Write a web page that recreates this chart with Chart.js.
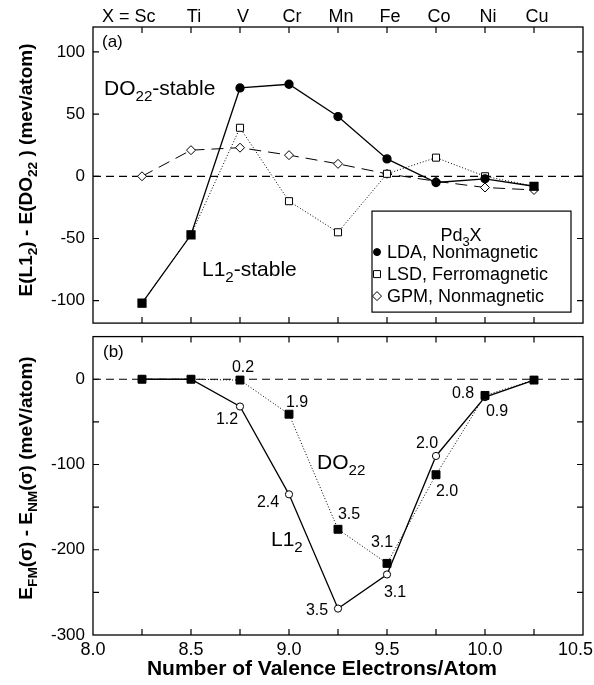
<!DOCTYPE html>
<html>
<head>
<meta charset="utf-8">
<script src="https://cdn.jsdelivr.net/npm/chart.js@4.4.1/dist/chart.umd.min.js"></script>
<style>
  body { margin: 0; background: #fff; }
  #wrap { position: relative; width: 594px; height: 685px; background: #fff; }
  canvas { position: absolute; left: 0; }
</style>
</head>
<body>
<div id="wrap">
  <canvas id="panelA" width="594" height="330" style="top:0"></canvas>
  <canvas id="panelB" width="594" height="355" style="top:330px"></canvas>
</div>
<script>
// elements X in Pd3X and their valence electron count
const elements = ['Sc', 'Ti', 'V', 'Cr', 'Mn', 'Fe', 'Co', 'Ni', 'Cu'];
const valence = [8.25, 8.5, 8.75, 9.0, 9.25, 9.5, 9.75, 10.0, 10.25];

// (a) E(L12) - E(DO22), meV/atom
const ldaNonmag = [-102, -47, 71, 74, 48, 14, -5, -2, -8];
const lsdFerro = [-102, -47, 39, -20, -45, 2, 15, 0, -8];
const gpmNonmag = [0, 21, 23, 17, 10, 2, -4, -9, -11];

// (b) E_FM - E_NM, meV/atom, and magnetic moments
const do22Diff = [0, 0, -1, -41, -176, -216, -112, -19, -1];
const l12Diff = [0, 0, -32, -135, -269, -229, -90, -21, -1];
const do22Moment = ['', '', '0.2', '1.9', '3.5', '3.1', '2.0', '0.9', ''];
const l12Moment = ['', '', '1.2', '2.4', '3.5', '3.1', '2.0', '0.8', ''];

// axes
const xTickLabels = [8.0, 8.5, 9.0, 9.5, 10.0, 10.5];
const xTickMarks = [8.25, 8.5, 8.75, 9.0, 9.25, 9.5, 9.75, 10.0, 10.25];
const yTicksA = [-100, -50, 0, 50, 100];
const yTicksB = [-300, -200, -100, 0];
const yMarksB = [-250, -200, -150, -100, -50, 0];

const FONT = '"Liberation Sans", Arial, Helvetica, sans-serif';
Chart.defaults.font.family = FONT;
Chart.defaults.color = '#000';

const pts = arr => valence.map((x, i) => ({ x: x, y: arr[i] }));

// text with _{sub} markup
function richText(ctx, str, x, y, size, bold, align) {
  const parts = str.split(/_\{(.*?)\}/);
  const font = s => (bold ? 'bold ' : '') + s + 'px ' + FONT;
  let total = 0;
  parts.forEach((t, i) => { ctx.font = font(i % 2 ? size * 0.72 : size); total += ctx.measureText(t).width; });
  let cx = align === 'center' ? x - total / 2 : align === 'right' ? x - total : x;
  ctx.textAlign = 'left';
  ctx.textBaseline = 'alphabetic';
  ctx.fillStyle = '#000';
  parts.forEach((t, i) => {
    ctx.font = font(i % 2 ? size * 0.72 : size);
    ctx.fillText(t, cx, i % 2 ? y + size * 0.28 : y);
    cx += ctx.measureText(t).width;
  });
}

function drawFrame(chart, yMarks) {
  const { ctx, chartArea: a, scales } = chart;
  ctx.save();
  ctx.strokeStyle = '#000';
  ctx.lineWidth = 1.3;
  ctx.strokeRect(a.left, a.top, a.right - a.left, a.bottom - a.top);
  ctx.lineWidth = 1.2;
  ctx.beginPath();
  xTickMarks.forEach(v => {
    const px = scales.x.getPixelForValue(v);
    ctx.moveTo(px, a.top); ctx.lineTo(px, a.top + 6);
    ctx.moveTo(px, a.bottom); ctx.lineTo(px, a.bottom - 6);
  });
  yMarks.forEach(v => {
    const py = scales.y.getPixelForValue(v);
    ctx.moveTo(a.left, py); ctx.lineTo(a.left + 6, py);
    ctx.moveTo(a.right, py); ctx.lineTo(a.right - 6, py);
  });
  ctx.stroke();
  ctx.restore();
}

function drawZero(chart) {
  const { ctx, chartArea: a, scales } = chart;
  const py = scales.y.getPixelForValue(0);
  ctx.save();
  ctx.strokeStyle = '#000';
  ctx.lineWidth = 1.2;
  ctx.setLineDash([8, 5]);
  ctx.beginPath();
  ctx.moveTo(a.left, py); ctx.lineTo(a.right, py);
  ctx.stroke();
  ctx.restore();
}

function drawYTitle(ctx, str, cx, cy) {
  ctx.save();
  ctx.translate(cx, cy);
  ctx.rotate(-Math.PI / 2);
  richText(ctx, str, 0, 7, 19, true, 'center');
  ctx.restore();
}

function marker(ctx, style, x, y, r, fill) {
  ctx.beginPath();
  if (style === 'circle') ctx.arc(x, y, r, 0, Math.PI * 2);
  else if (style === 'rect') ctx.rect(x - r, y - r, 2 * r, 2 * r);
  else { ctx.moveTo(x, y - r); ctx.lineTo(x + r, y); ctx.lineTo(x, y + r); ctx.lineTo(x - r, y); ctx.closePath(); }
  ctx.fillStyle = fill ? '#000' : '#fff';
  ctx.fill();
  ctx.lineWidth = 1;
  ctx.strokeStyle = '#000';
  ctx.stroke();
}

const yAfterFit = s => { s.width = 93; s.paddingTop = 0; s.paddingBottom = 0; };

// ---------- panel (a)
const panelAPlugin = {
  id: 'panelA',
  beforeDatasetsDraw: chart => drawZero(chart),
  afterDraw(chart) {
    const { ctx, chartArea: a, scales } = chart;
    const xs = scales.x, ys = scales.y;
    drawFrame(chart, yTicksA);

    // element names along the top
    ctx.save();
    ctx.font = '18px ' + FONT;
    ctx.fillStyle = '#000';
    ctx.textBaseline = 'alphabetic';
    elements.forEach((el, i) => {
      const px = xs.getPixelForValue(valence[i]) + 3;
      ctx.textAlign = 'center';
      ctx.fillText(el, px, 22);
      if (i === 0) {
        ctx.textAlign = 'right';
        ctx.fillText('X = ', px - ctx.measureText(el).width / 2, 22);
      }
    });
    ctx.font = '17px ' + FONT;
    ctx.textAlign = 'left';
    ctx.fillText('(a)', a.left + 9, a.top + 20);
    ctx.restore();

    richText(ctx, 'DO_{22}-stable', xs.getPixelForValue(8.056), ys.getPixelForValue(65), 21, false, 'left');
    richText(ctx, 'L1_{2}-stable', xs.getPixelForValue(8.556), ys.getPixelForValue(-80), 21, false, 'left');

    // legend box
    const bx = a.right - 211, by = a.bottom - 112, bw = 199, bh = 101;
    ctx.save();
    ctx.fillStyle = '#fff';
    ctx.fillRect(bx, by, bw, bh);
    ctx.strokeStyle = '#000';
    ctx.lineWidth = 1.2;
    ctx.strokeRect(bx, by, bw, bh);
    richText(ctx, 'Pd_{3}X', bx + 89, by + 30, 18, false, 'center');
    const rows = [
      ['LDA, Nonmagnetic', 'circle', 3.5, true],
      ['LSD, Ferromagnetic', 'rect', 3.5, false],
      ['GPM, Nonmagnetic', 'diamond', 4.5, false]
    ];
    rows.forEach((r, i) => {
      const ry = by + 41 + i * 22;
      marker(ctx, r[1], bx + 5, ry, r[2], r[3]);
      ctx.fillStyle = '#000';
      ctx.font = '18px ' + FONT;
      ctx.textAlign = 'left';
      ctx.textBaseline = 'middle';
      ctx.fillText(r[0], bx + 15, ry + 1);
    });
    ctx.restore();

    drawYTitle(ctx, 'E(L1_{2}) - E(DO_{22} ) (mev/atom)', 25, 170);
  }
};

new Chart(document.getElementById('panelA'), {
  type: 'scatter',
  data: {
    datasets: [
      {
        label: 'LDA, Nonmagnetic',
        data: pts(ldaNonmag),
        showLine: true,
        borderColor: '#000',
        borderWidth: 1.3,
        pointStyle: ldaNonmag.map((v, i) => v === lsdFerro[i] ? 'rect' : 'circle'),
        pointRadius: ldaNonmag.map((v, i) => v === lsdFerro[i] ? 5.6 : 4),
        pointBackgroundColor: '#000',
        pointBorderColor: '#000'
      },
      {
        label: 'LSD, Ferromagnetic',
        data: pts(lsdFerro),
        showLine: true,
        borderColor: '#000',
        borderWidth: 1,
        borderDash: [1, 2],
        pointStyle: 'rect',
        pointRadius: 5,
        pointBorderWidth: 1,
        pointBackgroundColor: '#fff',
        pointBorderColor: '#000'
      },
      {
        label: 'GPM, Nonmagnetic',
        data: pts(gpmNonmag),
        showLine: true,
        borderColor: '#000',
        borderWidth: 1,
        borderDash: [12, 7],
        pointStyle: 'rectRot',
        pointRadius: 4.5,
        pointBorderWidth: 1,
        pointBackgroundColor: '#fff',
        pointBorderColor: '#000'
      }
    ]
  },
  options: {
    responsive: false,
    animation: false,
    events: [],
    layout: { padding: { top: 27, right: 11, bottom: 4, left: 0 } },
    scales: {
      x: { type: 'linear', min: 8, max: 10.5, display: false },
      y: {
        type: 'linear', min: -118, max: 120,
        afterBuildTicks: s => { s.ticks = yTicksA.map(v => ({ value: v })); },
        afterFit: yAfterFit,
        grid: { display: false, drawTicks: false },
        border: { display: false },
        ticks: { font: { size: 17 }, padding: 8, color: '#000' }
      }
    },
    plugins: { legend: { display: false }, tooltip: { enabled: false } }
  },
  plugins: [panelAPlugin]
});

// ---------- panel (b)
const do22Offsets = [[0, 0], [0, 0], [3, -12], [8, -12], [11, -15], [-5, -21], [11, 17], [12, 16], [0, 0]];
const l12Offsets = [[0, 0], [0, 0], [-13, 13], [-21, 8], [-21, 2], [8, 18], [-9, -12], [-22, -4], [0, 0]];

const panelBPlugin = {
  id: 'panelB',
  beforeDatasetsDraw: chart => drawZero(chart),
  afterDraw(chart) {
    const { ctx, chartArea: a, scales } = chart;
    const xs = scales.x, ys = scales.y;
    drawFrame(chart, yMarksB);

    ctx.save();
    ctx.fillStyle = '#000';
    ctx.font = '17px ' + FONT;
    ctx.textAlign = 'left';
    ctx.textBaseline = 'alphabetic';
    ctx.fillText('(b)', a.left + 10, a.top + 20);

    ctx.font = '16px ' + FONT;
    ctx.textAlign = 'center';
    ctx.textBaseline = 'middle';
    valence.forEach((v, i) => {
      if (do22Moment[i]) {
        ctx.fillText(do22Moment[i], xs.getPixelForValue(v) + do22Offsets[i][0], ys.getPixelForValue(do22Diff[i]) + do22Offsets[i][1]);
      }
      if (l12Moment[i]) {
        ctx.fillText(l12Moment[i], xs.getPixelForValue(v) + l12Offsets[i][0], ys.getPixelForValue(l12Diff[i]) + l12Offsets[i][1]);
      }
    });

    // x tick labels, the last one kept inside the page
    ctx.font = '18px ' + FONT;
    xTickLabels.forEach(v => {
      const txt = v.toFixed(1);
      const w = ctx.measureText(txt).width;
      const px = Math.min(xs.getPixelForValue(v), chart.width - w / 2 - 1);
      ctx.fillText(txt, px, a.bottom + 15);
    });

    // axis title below the tick labels
    ctx.font = 'bold 21px ' + FONT;
    ctx.fillText('Number of Valence Electrons/Atom', 322, a.bottom + 34);
    ctx.restore();

    richText(ctx, 'DO_{22}', xs.getPixelForValue(9.143), ys.getPixelForValue(-105), 21, false, 'left');
    richText(ctx, 'L1_{2}', xs.getPixelForValue(8.908), ys.getPixelForValue(-196), 21, false, 'left');

    drawYTitle(ctx, 'E_{FM}(σ) - E_{NM}(σ) (meV/atom)', 25, 148);
  }
};

new Chart(document.getElementById('panelB'), {
  type: 'scatter',
  data: {
    datasets: [
      {
        label: 'DO22',
        data: pts(do22Diff),
        showLine: true,
        borderColor: '#000',
        borderWidth: 1,
        borderDash: [1, 2],
        pointStyle: 'rect',
        pointRadius: 5.6,
        pointBackgroundColor: '#000',
        pointBorderColor: '#000'
      },
      {
        label: 'L12',
        data: pts(l12Diff),
        showLine: true,
        borderColor: '#000',
        borderWidth: 1.3,
        pointStyle: 'circle',
        pointRadius: 3.6,
        pointBorderWidth: 1,
        pointBackgroundColor: '#fff',
        pointBorderColor: '#000'
      }
    ]
  },
  options: {
    responsive: false,
    animation: false,
    events: [],
    layout: { padding: { top: 6, right: 11, bottom: 0, left: 0 } },
    scales: {
      x: {
        type: 'linear', min: 8, max: 10.5,
        afterBuildTicks: s => { s.ticks = xTickLabels.map(v => ({ value: v })); },
        afterFit: s => { s.height = 50; s.paddingLeft = 0; s.paddingRight = 0; },
        grid: { display: false, drawTicks: false },
        border: { display: false },
        ticks: { display: false }
      },
      y: {
        type: 'linear', min: -300, max: 50,
        afterBuildTicks: s => { s.ticks = yTicksB.map(v => ({ value: v })); },
        afterFit: yAfterFit,
        grid: { display: false, drawTicks: false },
        border: { display: false },
        ticks: { font: { size: 17 }, padding: 8, color: '#000' }
      }
    },
    plugins: { legend: { display: false }, tooltip: { enabled: false } }
  },
  plugins: [panelBPlugin]
});
</script>
</body>
</html>
